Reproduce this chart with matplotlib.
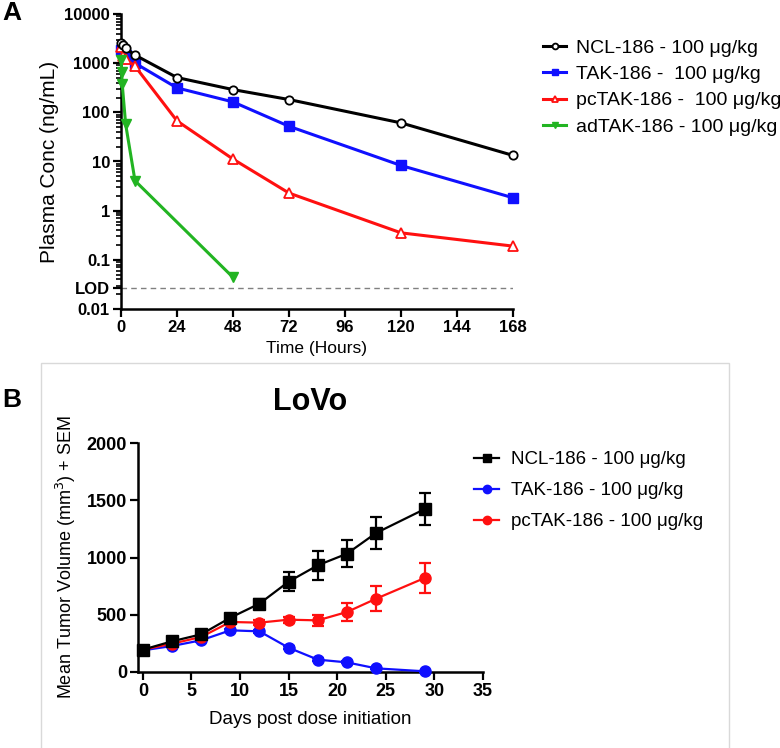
import numpy as np
import matplotlib
matplotlib.use('Agg')
import matplotlib.pyplot as plt
from matplotlib.patches import Rectangle
from matplotlib.lines import Line2D
from matplotlib.ticker import LogLocator, NullFormatter

plt.rcParams['font.family'] = ['Liberation Sans', 'DejaVu Sans']

# panel A: plasma PK
ncl_t = [0.083, 1, 2, 6, 24, 48, 72, 120, 168]
ncl_c = [2600, 2300, 1990, 1460, 510, 290, 182, 61, 13.3]
tak_t = [0.083, 0.5, 1, 2, 6, 24, 48, 72, 120, 168]
tak_c = [1840, 1750, 1650, 1500, 1000, 314, 163, 52, 8.3, 1.83]
pc_t = [0.083, 1, 2, 6, 24, 48, 72, 120, 168]
pc_c = [2100, 1400, 1190, 870, 67, 11.2, 2.28, 0.354, 0.19]
ad_t = [0.083, 0.25, 0.5, 2, 6, 48]
ad_c = [1150, 665, 385, 57, 4.06, 0.044]
lod = 0.027
pk_labels = ['NCL-186 - 100 \u03bcg/kg', 'TAK-186 -  100 \u03bcg/kg',
             'pcTAK-186 -  100 \u03bcg/kg', 'adTAK-186 - 100 \u03bcg/kg']

# panel B: LoVo tumour volume
days = [0, 3, 6, 9, 12, 15, 18, 21, 24, 29]
ncl_v = [195, 268, 329, 474, 597, 789, 932, 1033, 1214, 1423]
ncl_e = [20, 20, 25, 30, 40, 80, 125, 120, 140, 140]
tak_v = [189, 227, 277, 364, 355, 212, 108, 84, 32, 6]
tak_e = [10, 10, 12, 15, 15, 12, 10, 8, 6, 4]
pc_v = [195, 247, 306, 437, 431, 457, 451, 524, 640, 821]
pc_e = [10, 12, 15, 20, 20, 25, 47, 80, 108, 130]
tv_labels = ['NCL-186 - 100 \u03bcg/kg', 'TAK-186 - 100 \u03bcg/kg',
             'pcTAK-186 - 100 \u03bcg/kg']

W, H = 780, 748
fig = plt.figure(figsize=(7.8, 7.48), dpi=100)

def box(l, t, r, b):
    return [l / W, 1 - b / H, (r - l) / W, (b - t) / H]

# ---- panel A
ax1 = fig.add_axes(box(121, 14, 513, 309))
ax1.plot(ncl_t, ncl_c, color='black', lw=2.2, marker='o', ms=6, mfc='white',
         mew=1.3, label=pk_labels[0], clip_on=False, zorder=4)
ax1.plot(tak_t, tak_c, color='#1010ff', lw=2.2, marker='s', ms=7,
         label=pk_labels[1], clip_on=False, zorder=3)
ax1.plot(pc_t, pc_c, color='#ff1010', lw=2.2, marker='^', ms=7, mfc='white',
         mew=1.3, label=pk_labels[2], clip_on=False, zorder=3)
ax1.plot(ad_t, ad_c, color='#22b422', lw=2.2, marker='v', ms=7,
         label=pk_labels[3], clip_on=False, zorder=3)
ax1.axhline(lod, color='#808080', lw=1, ls=(0, (4, 3)))
ax1.set_yscale('log')
ax1.set_ylim(0.01, 10000)
ax1.set_xlim(0, 168)
ax1.set_xticks(np.arange(0, 169, 24))
yt = [0.01, lod, 0.1, 1, 10, 100, 1000, 10000]
ax1.set_yticks(yt)
ax1.set_yticklabels(['0.01', 'LOD', '0.1', '1', '10', '100', '1000', '10000'])
ax1.yaxis.set_minor_locator(LogLocator(base=10, subs=np.arange(2, 10), numticks=20))
ax1.yaxis.set_minor_formatter(NullFormatter())
ax1.set_ylabel('Plasma Conc (ng/mL)', fontsize=15, labelpad=4)
ax1.set_xlabel('Time (Hours)', fontsize=12.5, labelpad=4)
ax1.legend(loc='upper left', bbox_to_anchor=(543 / W, 1 - 39 / H),
           bbox_transform=fig.transFigure, frameon=False, fontsize=14,
           handlelength=1.2, handletextpad=0.5, labelspacing=0.45,
           borderpad=0, borderaxespad=0, markerscale=0.7)

# ---- panel B
ax2 = fig.add_axes(box(138, 443, 483, 672))
ax2.errorbar(days, ncl_v, yerr=ncl_e, color='black', lw=1.6, marker='s', ms=8,
             capsize=4, elinewidth=1.6, capthick=1.6, clip_on=False, zorder=4)
ax2.errorbar(days, tak_v, yerr=tak_e, color='#1010ff', lw=1.6, marker='o', ms=8,
             capsize=4, elinewidth=1.6, capthick=1.6, clip_on=False, zorder=3)
ax2.errorbar(days, pc_v, yerr=pc_e, color='#ff1010', lw=1.6, marker='o', ms=8,
             capsize=4, elinewidth=1.6, capthick=1.6, clip_on=False, zorder=3)
ax2.set_xlim(-0.5, 35)
ax2.set_ylim(0, 2000)
ax2.set_xticks(np.arange(0, 36, 5))
ax2.set_yticks(np.arange(0, 2001, 500))
ax2.set_ylabel('Mean Tumor Volume (mm$^3$) + SEM', fontsize=13, labelpad=6)
ax2.set_xlabel('Days post dose initiation', fontsize=13.5, labelpad=8)
ax2.set_title('LoVo', fontsize=22, fontweight='bold', pad=24)
handles = [Line2D([], [], color='black', lw=1.6, marker='s', ms=6),
           Line2D([], [], color='#1010ff', lw=1.6, marker='o', ms=6),
           Line2D([], [], color='#ff1010', lw=1.6, marker='o', ms=6)]
ax2.legend(handles, tv_labels, loc='upper left', bbox_to_anchor=(474 / W, 1 - 451 / H),
           bbox_transform=fig.transFigure, frameon=False, fontsize=13.5,
           handlelength=1.35, handletextpad=0.6, labelspacing=0.75,
           borderpad=0, borderaxespad=0)

for ax, fs in ((ax1, 12), (ax2, 13)):
    for s in ('top', 'right'):
        ax.spines[s].set_visible(False)
    for s in ('left', 'bottom'):
        ax.spines[s].set_linewidth(1.8)
    ax.tick_params(which='major', direction='out', length=6, width=1.6, labelsize=fs, pad=2)
    ax.tick_params(which='minor', direction='out', length=3.5, width=1.2)
    for lb in ax.get_xticklabels() + ax.get_yticklabels():
        lb.set_fontweight('bold')

# grey frame around panel B
fig.patches.append(Rectangle((41 / W, -0.01), (729 - 41) / W, 1 - 363 / H + 0.01,
                             transform=fig.transFigure, fill=False,
                             edgecolor='#d9d9d9', lw=1))

fig.text(2 / W, 1 - 1 / H, 'A', fontsize=19, fontweight='bold', va='top', ha='left')
fig.text(2 / W, 1 - 388 / H, 'B', fontsize=19, fontweight='bold', va='top', ha='left')

fig.savefig('out.png', dpi=100)
